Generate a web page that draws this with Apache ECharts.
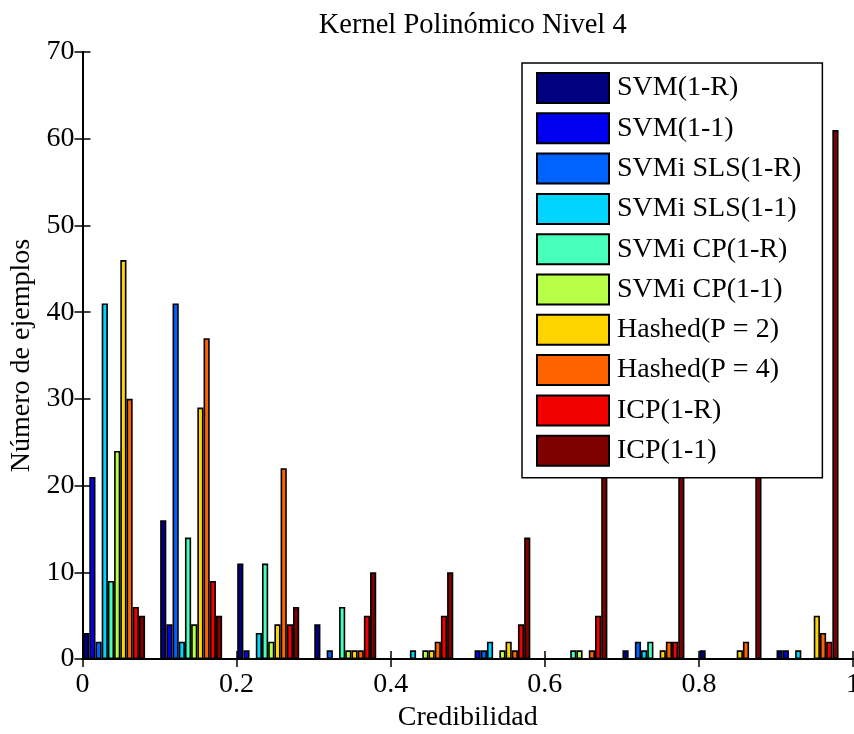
<!DOCTYPE html>
<html>
<head>
<meta charset="utf-8">
<script src="https://cdn.jsdelivr.net/npm/echarts@6/dist/echarts.min.js"></script>
<style>
  html, body { margin: 0; padding: 0; background: #fff; }
  #chart { width: 854px; height: 734px; }
</style>
</head>
<body>
<div id="chart"></div>
<script>
// bin centres on the Credibilidad axis
const binCenters = [0.041, 0.141, 0.241, 0.341, 0.441, 0.541, 0.641, 0.741, 0.841, 0.941];

const seriesNames = [
  "SVM(1-R)", "SVM(1-1)", "SVMi SLS(1-R)", "SVMi SLS(1-1)", "SVMi CP(1-R)",
  "SVMi CP(1-1)", "Hashed(P = 2)", "Hashed(P = 4)", "ICP(1-R)", "ICP(1-1)"
];

// counts per bin
const svm1R   = [3, 16, 11, 4, 0, 0, 0, 1, 1, 1];
const svm11   = [21, 4, 1, 0, 0, 1, 0, 0, 0, 1];
const slsR    = [2, 41, 0, 1, 0, 1, 0, 2, 0, 0];
const sls11   = [41, 2, 3, 0, 1, 2, 0, 1, 0, 1];
const cpR     = [9, 14, 11, 6, 0, 0, 1, 2, 0, 0];
const cp11    = [24, 4, 2, 1, 1, 1, 1, 0, 0, 0];
const hashed2 = [46, 29, 4, 1, 1, 2, 0, 1, 1, 5];
const hashed4 = [30, 37, 22, 1, 2, 1, 1, 2, 2, 3];
const icpR    = [6, 9, 4, 5, 5, 4, 5, 2, 0, 2];
const icp11   = [5, 5, 6, 10, 10, 14, 35, 33, 30, 61]; // bins 7-9 hidden behind legend

const allValues = [svm1R, svm11, slsR, sls11, cpR, cp11, hashed2, hashed4, icpR, icp11];

// jet colormap, 10 steps
const colors = ["#000080", "#0000f0", "#0063ff", "#00d4ff", "#47ffb8",
                "#b8ff47", "#ffd400", "#ff6300", "#f00000", "#800000"];

const xTicks = [0, 0.2, 0.4, 0.6, 0.8, 1];
const yTicks = [0, 10, 20, 30, 40, 50, 60, 70];

const font = '"Liberation Serif", "Times New Roman", serif';

const chart = echarts.init(document.getElementById("chart"));

const axisLine = { show: true, lineStyle: { color: "#000", width: 2 } };
const axisTick = { show: true, inside: true, length: 8, lineStyle: { color: "#000", width: 1.5 } };

const series = seriesNames.map((name, i) => ({
  name: name,
  type: "bar",
  barWidth: 6.2,
  barGap: "0%",
  data: binCenters.map((x, k) => [x, allValues[i][k]]),
  itemStyle: { color: colors[i], borderColor: "#000", borderWidth: 1.6 },
}));

const option = {
  animation: false,
  backgroundColor: "#fff",
  title: {
    text: "Kernel Polinómico Nivel 4",
    left: 467.7,
    textAlign: "center",
    top: 6,
    textStyle: { fontFamily: font, fontSize: 28.5, fontWeight: "normal", color: "#000" },
  },
  legend: {
    orient: "vertical",
    left: 522,
    top: 63,
    padding: [9, 21, 11, 14],
    itemWidth: 72,
    itemHeight: 30,
    itemGap: 8.3,
    icon: "rect",
    backgroundColor: "#fff",
    borderColor: "#000",
    borderWidth: 1.5,
    itemStyle: { borderColor: "#000", borderWidth: 2 },
    textStyle: { fontFamily: font, fontSize: 28, color: "#000", padding: [0, 0, 0, 3] },
    data: seriesNames,
  },
  grid: {
    left: 82.5, right: 1, top: 52, bottom: 75,
    containLabel: false,
    outerBoundsMode: "none",
  },
  xAxis: [
    {
      type: "value",
      min: xTicks[0],
      max: xTicks[xTicks.length - 1],
      interval: 0.2,
      position: "bottom",
      name: "Credibilidad",
      nameLocation: "middle",
      nameGap: 44,
      nameTextStyle: { fontFamily: font, fontSize: 28, color: "#000" },
      axisLine: axisLine,
      axisTick: axisTick,
      axisLabel: { fontFamily: font, fontSize: 28, color: "#000", margin: 12 },
      splitLine: { show: false },
    },
    {
      type: "value",
      min: xTicks[0],
      max: xTicks[xTicks.length - 1],
      interval: 0.2,
      position: "top",
      axisLine: axisLine,
      axisTick: axisTick,
      axisLabel: { show: false },
      splitLine: { show: false },
    },
  ],
  yAxis: [
    {
      type: "value",
      min: yTicks[0],
      max: yTicks[yTicks.length - 1],
      interval: 10,
      position: "left",
      name: "Número de ejemplos",
      nameLocation: "middle",
      nameGap: 46,
      nameTextStyle: { fontFamily: font, fontSize: 28, color: "#000" },
      axisLine: axisLine,
      axisTick: axisTick,
      axisLabel: { fontFamily: font, fontSize: 28, color: "#000", margin: 8 },
      splitLine: { show: false },
    },
    {
      type: "value",
      min: yTicks[0],
      max: yTicks[yTicks.length - 1],
      interval: 10,
      position: "right",
      axisLine: axisLine,
      axisTick: axisTick,
      axisLabel: { show: false },
      splitLine: { show: false },
    },
  ],
  series: series,
};

chart.setOption(option);
</script>
</body>
</html>
